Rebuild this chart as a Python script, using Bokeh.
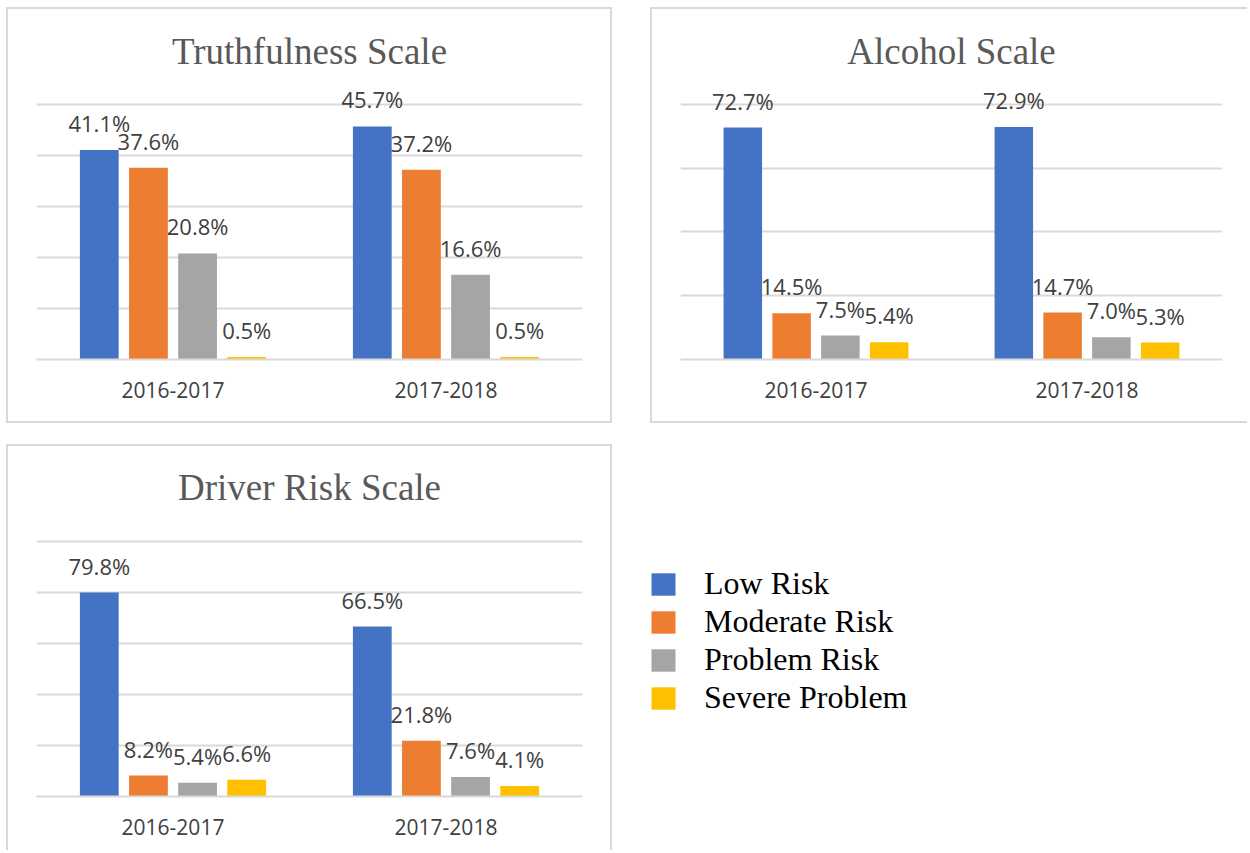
from bokeh.plotting import figure
from bokeh.layouts import column, row
from bokeh.models import (FactorRange, Range1d, FixedTicker, ColumnDataSource,
                          Spacer, Legend, LegendItem)
from bokeh.transform import dodge
from bokeh.core.properties import value
from bokeh.embed import file_html
from bokeh.resources import INLINE

years = ["2016-2017", "2017-2018"]
risk_levels = ["Low Risk", "Moderate Risk", "Problem Risk", "Severe Problem"]

truth_low = [41.1, 45.7]
truth_mod = [37.6, 37.2]
truth_prob = [20.8, 16.6]
truth_sev = [0.5, 0.5]

alc_low = [72.7, 72.9]
alc_mod = [14.5, 14.7]
alc_prob = [7.5, 7.0]
alc_sev = [5.4, 5.3]

drv_low = [79.8, 66.5]
drv_mod = [8.2, 21.8]
drv_prob = [5.4, 7.6]
drv_sev = [6.6, 4.1]

colors = ["#4472C4", "#ED7D31", "#A5A5A5", "#FFC000"]
offsets = [-0.27, -0.09, 0.09, 0.27]
LABEL_FONT = "Open Sans"
TITLE_FONT = "Liberation Serif"
GRID = "#D9D9D9"
BORDER = "2px solid #D9D9D9"


def make_chart(title, series, y_end, ticks, width, height, mb_left, mb_right,
               mb_top, mb_bottom, standoff, styles):
    p = figure(x_range=FactorRange(factors=years, range_padding=0),
               y_range=Range1d(0, y_end), width=width, height=height,
               output_backend="svg", toolbar_location=None,
               min_border_left=mb_left, min_border_right=mb_right,
               min_border_top=mb_top, min_border_bottom=mb_bottom,
               title=title, styles=styles)
    p.title.text_font = TITLE_FONT
    p.title.text_font_size = "37px"
    p.title.text_font_style = "normal"
    p.title.text_color = "#595959"
    p.title.align = "center"
    p.title.standoff = standoff
    p.outline_line_color = None
    p.yaxis.visible = False
    p.xgrid.visible = False
    p.ygrid.ticker = FixedTicker(ticks=ticks)
    p.ygrid.grid_line_color = GRID
    p.ygrid.grid_line_width = 2
    p.xaxis.axis_line_color = GRID
    p.xaxis.axis_line_width = 2
    p.xaxis.major_tick_line_color = None
    p.xaxis.minor_tick_line_color = None
    p.xaxis.major_label_text_font = LABEL_FONT
    p.xaxis.major_label_text_font_size = "21px"
    p.xaxis.major_label_text_color = "#404040"
    p.xaxis.major_label_standoff = 16
    for i, vals in enumerate(series):
        src = ColumnDataSource(dict(year=years, val=vals,
                                    lab=[f"{v:.1f}%" for v in vals]))
        p.vbar(x=dodge("year", offsets[i], range=p.x_range), top="val",
               width=0.142, source=src, fill_color=colors[i], line_color=None)
        p.text(x=dodge("year", offsets[i], range=p.x_range), y="val",
               text="lab", source=src, y_offset=-27, text_align="center",
               text_baseline="middle", text_font=value(LABEL_FONT),
               text_font_size="22px", text_color="#404040")
    return p


p1 = make_chart("Truthfulness Scale", [truth_low, truth_mod, truth_prob, truth_sev],
                279 / 5.1, [0, 10, 20, 30, 40, 50], 606, 416, 28, 32, 71, 66, 17,
                {"border": BORDER})
p2 = make_chart("Alcohol Scale", [alc_low, alc_mod, alc_prob, alc_sev],
                279 / 3.19, [0, 20, 40, 60, 80], 597, 416, 28, 27, 71, 66, 17,
                {"border-left": BORDER, "border-top": BORDER,
                 "border-bottom": BORDER})
p3 = make_chart("Driver Risk Scale", [drv_low, drv_mod, drv_prob, drv_sev],
                276 / 2.555, [0, 20, 40, 60, 80, 100], 606, 406, 28, 32, 74, 56, 25,
                {"border-left": BORDER, "border-top": BORDER,
                 "border-right": BORDER})

# legend panel (legend-only renderers with zero-height bars)
pl = figure(width=637, height=408, output_backend="svg", toolbar_location=None,
            x_axis_location=None, y_axis_location=None,
            x_range=FactorRange(factors=years), y_range=Range1d(0, 1),
            min_border_left=0, min_border_right=0, min_border_top=0,
            min_border_bottom=0)
pl.outline_line_color = None
pl.grid.visible = False
items = []
for i, name in enumerate(risk_levels):
    src = ColumnDataSource(dict(year=years, val=[0, 0]))
    r = pl.vbar(x="year", top="val", width=0.1, source=src,
                fill_color=colors[i], line_color=None)
    items.append(LegendItem(label=name, renderers=[r]))
lg = Legend(items=items, location=(36, 80))
lg.border_line_color = None
lg.background_fill_alpha = 0
lg.padding = 0
lg.margin = 0
lg.spacing = 1
lg.glyph_width = 30
lg.glyph_height = 28
lg.label_standoff = 26
lg.label_text_font = TITLE_FONT
lg.label_text_font_size = "32px"
lg.label_text_color = "black"
pl.add_layout(lg, "center")

layout = column(
    Spacer(width=10, height=7),
    row(Spacer(width=6, height=10), p1, Spacer(width=38, height=10), p2),
    Spacer(width=10, height=21),
    row(Spacer(width=6, height=10), p3, pl),
)

open("out.html", "w").write(file_html(layout, INLINE))
